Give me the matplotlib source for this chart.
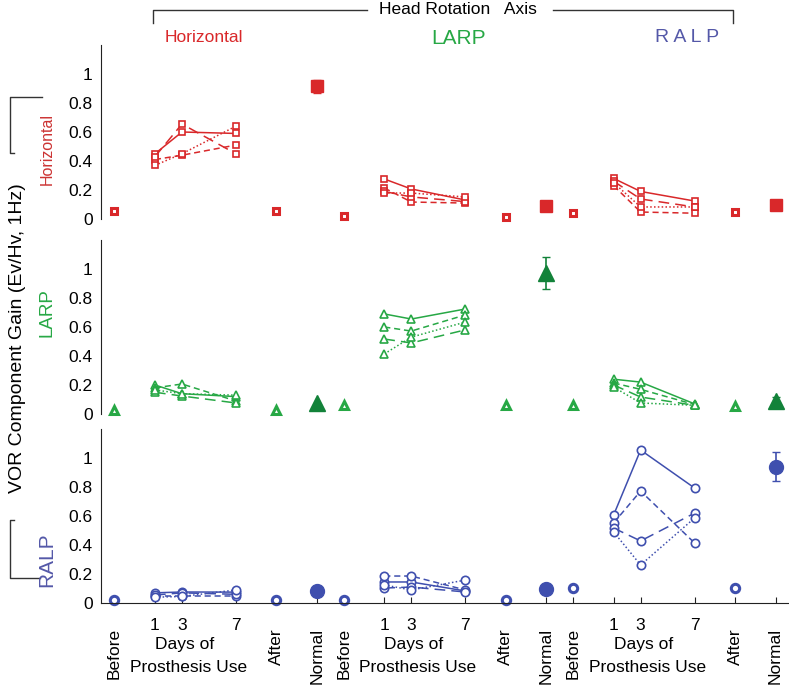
import numpy as np
import matplotlib
matplotlib.use("Agg")
import matplotlib.pyplot as plt
import matplotlib.transforms as mtransforms
from matplotlib.lines import Line2D

plt.rcParams['font.family'] = ['Liberation Sans', 'DejaVu Sans']

# x positions inside one rotation-axis group (Before, days 1/3/7, After, Normal)
group_offset = [0, 17, 34]
x_before = -2
days = [1, 3, 7]
x_after = 10
x_normal = 13
rotation_axes = ["Horizontal", "LARP", "RALP"]

# ---- Horizontal component (row 1), one entry per rotation group ----
hor_before = [0.055, 0.02, 0.04]
hor_after = [0.055, 0.016, 0.048]
hor_normal = [0.917, 0.09, 0.097]
hor_normal_err = [0.045, 0.0, 0.0]
hor_days = [
    [[0.45, 0.60, 0.59], [0.41, 0.44, 0.51], [0.43, 0.655, 0.45], [0.37, 0.45, 0.64]],
    [[0.276, 0.207, 0.131], [0.214, 0.117, 0.11], [0.19, 0.152, 0.12], [0.179, 0.179, 0.152]],
    [[0.28, 0.19, 0.124], [0.23, 0.048, 0.04], [0.26, 0.138, 0.083], [0.25, 0.083, 0.083]],
]

# ---- LARP component (row 2) ----
larp_before = [0.028, 0.062, 0.062]
larp_after = [0.028, 0.062, 0.055]
larp_normal = [0.076, 0.97, 0.09]
larp_normal_err = [0.0, 0.11, 0.03]
larp_days = [
    [[0.2, 0.14, 0.12], [0.18, 0.207, 0.09], [0.15, 0.124, 0.076], [0.166, 0.14, 0.13]],
    [[0.69, 0.655, 0.724], [0.60, 0.572, 0.683], [0.517, 0.49, 0.58], [0.414, 0.53, 0.634]],
    [[0.24, 0.22, 0.07], [0.214, 0.17, 0.065], [0.2, 0.117, 0.06], [0.186, 0.076, 0.06]],
]

# ---- RALP component (row 3) ----
ralp_before = [0.02, 0.02, 0.103]
ralp_after = [0.02, 0.02, 0.103]
ralp_normal = [0.083, 0.097, 0.938]
ralp_normal_err = [0.0, 0.0, 0.1]
ralp_days = [
    [[0.07, 0.076, 0.075], [0.045, 0.045, 0.045], [0.055, 0.07, 0.06], [0.04, 0.045, 0.09]],
    [[0.145, 0.145, 0.083], [0.186, 0.186, 0.09], [0.103, 0.11, 0.076], [0.124, 0.09, 0.158]],
    [[0.607, 1.055, 0.793], [0.552, 0.772, 0.414], [0.517, 0.428, 0.62], [0.49, 0.262, 0.586]],
]

line_styles = ['-', (0, (4, 2.5)), (0, (7, 4)), (0, (1, 1.5))]

red = '#d9282a'
green = '#27a845'
dark_green = '#128239'
blue = '#3f4fae'

rows = [
    dict(before=hor_before, after=hor_after, normal=hor_normal, err=hor_normal_err,
         days=hor_days, marker='s', color=red, fill=red, ms=5, nms=8.5),
    dict(before=larp_before, after=larp_after, normal=larp_normal, err=larp_normal_err,
         days=larp_days, marker='^', color=green, fill=dark_green, ms=6, nms=11),
    dict(before=ralp_before, after=ralp_after, normal=ralp_normal, err=ralp_normal_err,
         days=ralp_days, marker='o', color=blue, fill=blue, ms=6, nms=10),
]

W, H = 789, 685
fig = plt.figure(figsize=(W / 100, H / 100), dpi=100)


def fx(x):
    return x / W


def fy(y):
    return 1 - y / H


# axes: pixel row of the 0 line for each panel
row_zero = [219, 414, 603]
axes = []
for i, r in enumerate(rows):
    ax = fig.add_axes([fx(101), fy(row_zero[i]), fx(W - 101), 174 / H])
    ax.set_xlim(-3, 48)
    ax.set_ylim(0, 1.2)
    ax.set_yticks([0, 0.2, 0.4, 0.6, 0.8, 1])
    ax.set_yticklabels(['0', '0.2', '0.4', '0.6', '0.8', '1'])
    ax.tick_params(axis='y', length=0, labelsize=12.5, pad=6)
    for s in ['top', 'right']:
        ax.spines[s].set_visible(False)
    ax.spines['left'].set_color('#222222')
    ax.patch.set_alpha(0)
    if i < 2:
        ax.spines['bottom'].set_visible(False)
        ax.set_xticks([])
    else:
        ax.spines['bottom'].set_color('#222222')
    axes.append(ax)

    for g in range(3):
        off = group_offset[g]
        xd = [off + d for d in days]
        for k, vals in enumerate(r['days'][g]):
            ax.plot(xd, vals, linestyle=line_styles[k], color=r['color'], lw=1.1,
                    marker=r['marker'], ms=r['ms'], mfc='white', mec=r['color'],
                    mew=1.2, clip_on=False)
        ax.plot([off + x_before, off + x_after], [r['before'][g], r['after'][g]],
                linestyle='none', marker=r['marker'], ms=r['ms'], mfc='white',
                mec=r['color'], mew=2.2, clip_on=False)
        if r['err'][g] > 0:
            ax.errorbar(off + x_normal, r['normal'][g], yerr=r['err'][g], fmt='none',
                        ecolor=r['fill'], elinewidth=1.2, capsize=3, clip_on=False)
        ax.plot(off + x_normal, r['normal'][g], linestyle='none', marker=r['marker'],
                ms=r['nms'], color=r['fill'], clip_on=False)

# bottom axis ticks and labels
ax3 = axes[2]
tick_x = []
for off in group_offset:
    tick_x += [off + x_before] + [off + d for d in days] + [off + x_after, off + x_normal]
ax3.set_xticks(tick_x)
ax3.set_xticklabels([])
ax3.tick_params(axis='x', direction='in', length=4, color='#222222')

tr = mtransforms.blended_transform_factory(ax3.transData, fig.transFigure)
for off in group_offset:
    for d in days:
        ax3.text(off + d, fy(625), str(d), transform=tr, ha='center', va='center', fontsize=12.5)
    ax3.text(off + 3.2, fy(645), "Days of", transform=tr, ha='center', va='center', fontsize=12.5)
    ax3.text(off + 3.5, fy(667), "Prosthesis Use", transform=tr, ha='center', va='center', fontsize=12.5)
    ax3.text(off + x_before, fy(628), "Before", transform=tr, ha='center', va='top',
             rotation=90, fontsize=12.5)
    ax3.text(off + x_after, fy(628), "After", transform=tr, ha='center', va='top',
             rotation=90, fontsize=12.5)
    ax3.text(off + x_normal, fy(628), "Normal", transform=tr, ha='center', va='top',
             rotation=90, fontsize=12.5)

# column titles
fig.text(fx(204), fy(38), "Horizontal", color=red, ha='center', va='center', fontsize=12.5)
fig.text(fx(459), fy(38), "LARP", color=green, ha='center', va='center', fontsize=15)
fig.text(fx(687), fy(38), "R A L P", color='#5458a8', ha='center', va='center', fontsize=14)

# top bracket
fig.add_artist(Line2D([fx(153), fx(153), fx(367)], [fy(23), fy(10), fy(10)], color='#333333', lw=1))
fig.add_artist(Line2D([fx(553), fx(733), fx(733)], [fy(10), fy(10), fy(23)], color='#333333', lw=1))
fig.text(fx(458), fy(10), "Head Rotation   Axis", ha='center', va='center', fontsize=12.5)

# left labels and bracket
fig.text(fx(18), fy(338), "VOR Component Gain (Ev/Hv, 1Hz)", rotation=90,
         ha='center', va='center', fontsize=14)
fig.text(fx(47), fy(149), "Horizontal", rotation=90, color='#cc3333',
         ha='center', va='center', fontsize=11.5)
fig.text(fx(47), fy(313), "LARP", rotation=90, color=green,
         ha='center', va='center', fontsize=13.5)
fig.text(fx(47), fy(560), "RALP", rotation=90, color='#5458a8',
         ha='center', va='center', fontsize=15)
fig.add_artist(Line2D([fx(42), fx(10), fx(10), fx(14)], [fy(97), fy(97), fy(153), fy(153)],
                      color='#333333', lw=1))
fig.add_artist(Line2D([fx(14), fx(10), fx(10), fx(40)], [fy(520), fy(520), fy(578), fy(578)],
                      color='#333333', lw=1))

fig.savefig("out.png", dpi=100)
